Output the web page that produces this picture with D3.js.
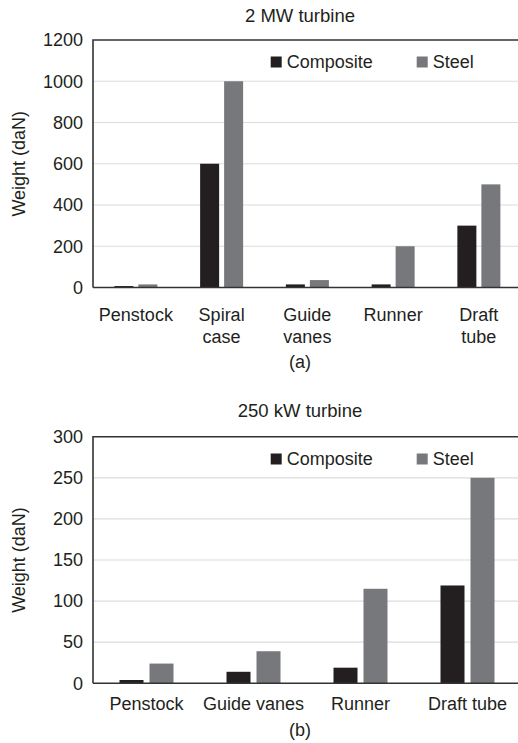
<!DOCTYPE html>
<html>
<head>
<meta charset="utf-8">
<script src="https://cdn.jsdelivr.net/npm/d3@7"></script>
<style>
  body { margin: 0; background: #fff; }
  svg text { font-family: "Liberation Sans", Arial, sans-serif; fill: #231f20; }
</style>
</head>
<body>
<div id="chart"></div>
<script>
// chart (a): 2 MW turbine
var catsA = [["Penstock"], ["Spiral", "case"], ["Guide", "vanes"], ["Runner"], ["Draft", "tube"]];
var compositeA = [7, 600, 15, 15, 300];
var steelA = [15, 1000, 36, 200, 500];
var ticksA = [0, 200, 400, 600, 800, 1000, 1200];

// chart (b): 250 kW turbine
var catsB = [["Penstock"], ["Guide vanes"], ["Runner"], ["Draft tube"]];
var compositeB = [4, 14, 19, 119];
var steelB = [24, 39, 115, 250];
var ticksB = [0, 50, 100, 150, 200, 250, 300];

var seriesNames = ["Composite", "Steel"];
var colors = ["#231f20", "#77787b"];

var width = 518, height = 743;

var svg = d3.select("#chart")
  .append("svg")
  .attr("width", width)
  .attr("height", height);

drawPanel({
  top: 40, bottom: 287.5, left: 93, right: 521.75,
  cats: catsA, comp: compositeA, steel: steelA, ticks: ticksA,
  title: "2 MW turbine", titleY: 22, labelY: 321, caption: "(a)", captionY: 368,
  barW: 19, gap: 5, legendY: 56.5
});

drawPanel({
  top: 436.7, bottom: 683.3, left: 93, right: 521,
  cats: catsB, comp: compositeB, steel: steelB, ticks: ticksB,
  title: "250 kW turbine", titleY: 417, labelY: 710, caption: "(b)", captionY: 736,
  barW: 24, gap: 6, legendY: 453.5
});

function drawPanel(p) {
  var g = svg.append("g");
  var names = p.cats.map(function(c) { return c.join(" "); });

  var x = d3.scaleBand()
    .domain(names)
    .range([p.left, p.right]);

  var y = d3.scaleLinear()
    .domain([0, d3.max(p.ticks)])
    .range([p.bottom, p.top]);

  // gridlines
  g.selectAll(".grid")
    .data(p.ticks.slice(1, -1))
    .enter()
    .append("line")
    .attr("x1", p.left)
    .attr("x2", width)
    .attr("y1", function(d) { return y(d); })
    .attr("y2", function(d) { return y(d); })
    .attr("stroke", "#dcdcdc")
    .attr("stroke-width", 1.2);

  // tick labels
  var yAxis = d3.axisLeft(y).tickValues(p.ticks).tickFormat(d3.format("d"))
    .tickSize(0).tickPadding(10);
  var ya = g.append("g")
    .attr("transform", "translate(" + p.left + ",0)")
    .call(yAxis);
  ya.select(".domain").remove();
  ya.selectAll("text")
    .style("font-size", "18px")
    .attr("fill", "#231f20");

  // bars
  var series = [p.comp, p.steel];
  series.forEach(function(vals, s) {
    g.selectAll(".bar" + s)
      .data(vals)
      .enter()
      .append("rect")
      .attr("x", function(d, i) {
        var c = x(names[i]) + x.bandwidth() / 2;
        return s === 0 ? c - p.gap / 2 - p.barW : c + p.gap / 2;
      })
      .attr("y", function(d) { return y(d); })
      .attr("width", p.barW)
      .attr("height", function(d) { return p.bottom - y(d); })
      .attr("fill", colors[s]);
  });

  // frame: top and left, plus the baseline
  g.append("path")
    .attr("d", "M" + p.left + "," + p.bottom + "V" + p.top + "H" + width)
    .attr("fill", "none")
    .attr("stroke", "#333")
    .attr("stroke-width", 1.6);
  g.append("line")
    .attr("x1", p.left).attr("x2", width)
    .attr("y1", p.bottom).attr("y2", p.bottom)
    .attr("stroke", "#333")
    .attr("stroke-width", 1.6);

  // category labels
  p.cats.forEach(function(lines, i) {
    var t = g.append("text")
      .attr("text-anchor", "middle")
      .style("font-size", "18px")
      .attr("x", x(names[i]) + x.bandwidth() / 2)
      .attr("y", p.labelY);
    lines.forEach(function(l, j) {
      t.append("tspan")
        .attr("x", x(names[i]) + x.bandwidth() / 2)
        .attr("dy", j === 0 ? 0 : 22)
        .text(l);
    });
  });

  // y-axis title
  g.append("text")
    .attr("transform", "translate(25," + ((p.top + p.bottom) / 2) + ") rotate(-90)")
    .attr("text-anchor", "middle")
    .style("font-size", "18px")
    .text("Weight (daN)");

  // chart title and caption
  g.append("text")
    .attr("x", 300).attr("y", p.titleY)
    .attr("text-anchor", "middle")
    .style("font-size", "18.5px")
    .text(p.title);
  g.append("text")
    .attr("x", 300).attr("y", p.captionY)
    .attr("text-anchor", "middle")
    .style("font-size", "18px")
    .text(p.caption);

  // legend
  var legX = [270.7, 416.7];
  seriesNames.forEach(function(n, s) {
    g.append("rect")
      .attr("x", legX[s]).attr("y", p.legendY)
      .attr("width", 11).attr("height", 11)
      .attr("fill", colors[s]);
    g.append("text")
      .attr("x", legX[s] + 16).attr("y", p.legendY + 11.5)
      .style("font-size", "18px")
      .text(n);
  });
}
</script>
</body>
</html>
